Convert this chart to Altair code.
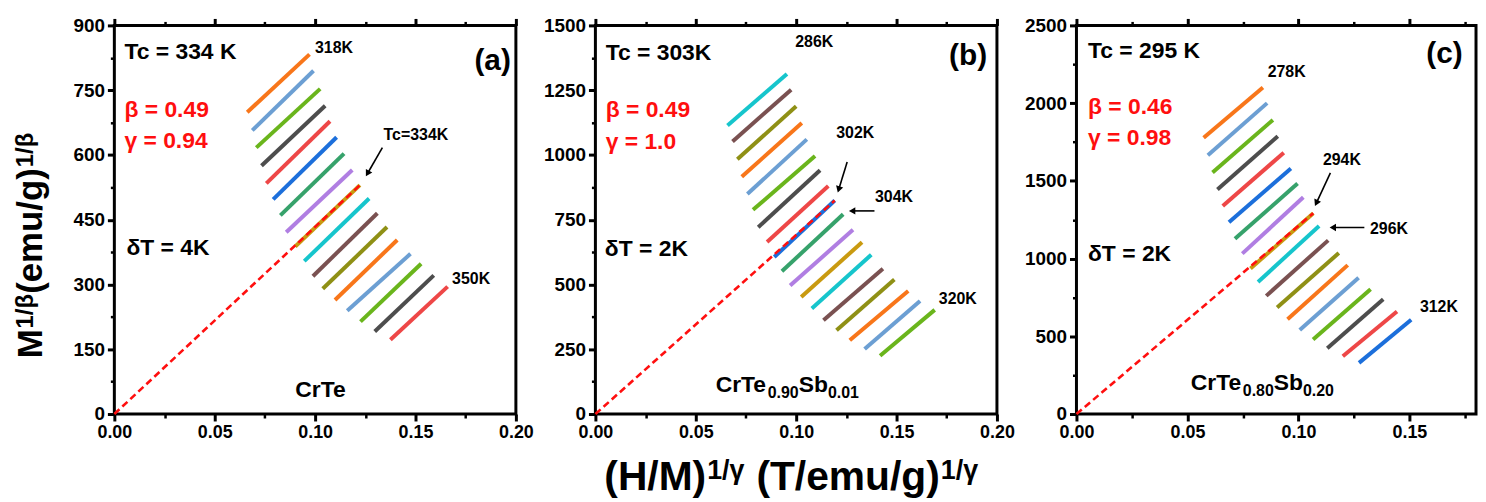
import altair as alt
import pandas as pd

# ---------------- data ----------------
temps_a = list(range(318, 351, 2))
xa_start = [0.0662, 0.0687, 0.0707, 0.0733, 0.0757, 0.0791, 0.0827, 0.0856, 0.0901,
            0.0946, 0.0989, 0.1038, 0.1099, 0.1160, 0.1226, 0.1297, 0.1375]
xa_end = [0.0972, 0.0992, 0.1025, 0.1050, 0.1074, 0.1107, 0.1144, 0.1185, 0.1223,
          0.1269, 0.1310, 0.1358, 0.1409, 0.1475, 0.1528, 0.1591, 0.1660]
ya_start = [699, 657, 617, 575, 534, 497, 460, 421, 388, 354, 319, 290, 264, 239, 214, 191, 172]
ya_end = [833, 795, 753, 714, 678, 641, 603, 565, 530, 499, 465, 433, 403, 371, 348, 321, 295]

temps_b = list(range(286, 321, 2))
xb_start = [0.0658, 0.0683, 0.0707, 0.0729, 0.0757, 0.0785, 0.0811, 0.0855, 0.0891,
            0.0929, 0.0970, 0.1025, 0.1078, 0.1136, 0.1201, 0.1267, 0.1341, 0.1418]
xb_end = [0.0954, 0.0975, 0.1000, 0.1028, 0.1053, 0.1094, 0.1119, 0.1160, 0.1192,
          0.1234, 0.1283, 0.1328, 0.1374, 0.1432, 0.1489, 0.1558, 0.1617, 0.1690]
yb_start = [1114, 1052, 983, 916, 849, 788, 721, 664, 606, 551, 496, 452, 407, 362, 323, 285, 251, 225]
yb_end = [1312, 1252, 1188, 1123, 1060, 996, 941, 880, 824, 771, 711, 663, 615, 561, 519, 475, 436, 402]

temps_c = list(range(278, 313, 2))
xc_start = [0.0573, 0.0592, 0.0613, 0.0635, 0.0659, 0.0687, 0.0714, 0.0747, 0.0784,
            0.0818, 0.0855, 0.0904, 0.0951, 0.1006, 0.1066, 0.1130, 0.1200, 0.1273]
xc_end = [0.0840, 0.0859, 0.0885, 0.0907, 0.0934, 0.0966, 0.0996, 0.1022, 0.1067,
          0.1093, 0.1134, 0.1182, 0.1222, 0.1271, 0.1325, 0.1382, 0.1444, 0.1508]
yc_start = [1777, 1664, 1553, 1445, 1338, 1234, 1127, 1032, 936, 849, 760, 685, 610, 540, 479, 423, 372, 329]
yc_end = [2100, 2000, 1892, 1787, 1681, 1579, 1483, 1394, 1292, 1210, 1117, 1036, 958, 877, 802, 738, 659, 606]

# ---------------- styles ----------------
FONT = "Liberation Sans"
PALETTE = ["#F8761A", "#6C9FD3", "#6AB51C", "#4D4D4D", "#EE4747", "#1C6FDB",
           "#36A26B", "#B07EE2", "#C99A10", "#16C5CC", "#7A5151", "#8F9015"]
RED = "#FF0F0F"
PLOT_H = 391

ADV = {" ": .278, "(": .333, ")": .333, "/": .278, ".": .278, "C": .722, "r": .389,
       "T": .611, "e": .556, "S": .667, "b": .611, "H": .722, "M": .833, "m": .889,
       "u": .611, "g": .611, "β": .575, "γ": .556}


def tw(s, size):
    return sum(ADV.get(ch, .556) for ch in s) * size


def ax(orient, values, labels=False, size=7, width=3, fmt=None, lsize=18):
    kw = dict(orient=orient, values=values, labels=labels, ticks=True, tickSize=size,
              tickWidth=width, tickColor="black", domain=False, grid=False, title=None)
    if labels:
        kw.update(format=fmt, labelFont=FONT, labelFontSize=lsize, labelFontWeight="bold",
                  labelColor="black", labelPadding=3, labelFlush=False,
                  labelOverlap=False, labelBound=False)
    return alt.Axis(**kw)


def panel(tag, spec):
    W = spec["width"]
    xmax, ymax, ystep = spec["xmax"], spec["ymax"], spec["ystep"]
    xsc = alt.Scale(domain=[0, xmax], nice=False)
    ysc = alt.Scale(domain=[0, ymax], nice=False)
    xmaj = [v / 100 for v in range(0, int(round(xmax * 100)) + 1, 5)]
    xmin = [v / 1000 for v in range(25, int(round(xmax * 1000)) + 1, 50)]
    ymaj = list(range(0, ymax + 1, ystep))
    ymin = [v + ystep / 2 for v in range(0, ymax, ystep)]

    temps = spec["temps"]
    names = [f"{tag}{t}K" for t in temps]
    cols = [PALETTE[(i + spec["pal"]) % len(PALETTE)] for i in range(len(temps))]
    rows = []
    for n, a, b, c, d in zip(names, spec["xs"], spec["xe"], spec["ys"], spec["ye"]):
        rows.append({"T": n, "x": a, "y": c})
        rows.append({"T": n, "x": b, "y": d})
    seg_df = pd.DataFrame(rows)

    k = spec["tc_idx"]
    dash_df = pd.DataFrame({"x": [0, spec["xe"][k]], "y": [0, spec["ye"][k]]})

    layers = []
    layers.append(alt.Chart(seg_df).mark_line(strokeWidth=4).encode(
        x=alt.X("x:Q", scale=xsc, axis=ax("bottom", xmaj, labels=True, fmt=".2f")),
        y=alt.Y("y:Q", scale=ysc, axis=ax("left", ymaj, labels=True, fmt="d", lsize=19)),
        color=alt.Color("T:N", scale=alt.Scale(domain=names, range=cols), legend=None),
        detail="T:N"))
    layers.append(alt.Chart(dash_df).mark_line(color=RED, strokeWidth=2.6, strokeDash=[7, 4]).encode(
        x=alt.X("x:Q", scale=xsc, axis=ax("bottom", xmin, size=4, width=2.5)),
        y=alt.Y("y:Q", scale=ysc, axis=ax("left", ymin, size=4, width=2.5))))

    tl = pd.DataFrame(spec["tlabels"], columns=["label", "x", "y"])
    layers.append(alt.Chart(tl).mark_text(font=FONT, fontSize=16, fontWeight="bold",
                                          color="black").encode(
        x=alt.X("x:Q", scale=xsc, axis=ax("top", xmaj)),
        y=alt.Y("y:Q", scale=ysc, axis=None), text="label:N"))

    # arrows
    px_x = W / xmax
    px_y = PLOT_H / ymax
    arr = []
    for (x0, y0, x1, y1, ang) in spec["arrows"]:
        dxp = (x0 - x1) * px_x
        dyp = (y0 - y1) * px_y
        L = (dxp ** 2 + dyp ** 2) ** 0.5
        hx = x1 + (x0 - x1) * 4 / L
        hy = y1 + (y0 - y1) * 4 / L
        arr.append({"x": x0, "y": y0, "x2": hx, "y2": hy, "hx": hx, "hy": hy, "ang": ang})
    arr_df = pd.DataFrame(arr)
    layers.append(alt.Chart(arr_df).mark_rule(color="black", strokeWidth=1.6).encode(
        x=alt.X("x:Q", scale=xsc, axis=ax("top", xmin, size=4, width=2.5)),
        y=alt.Y("y:Q", scale=ysc, axis=None), x2="x2:Q", y2="y2:Q"))
    layers.append(alt.Chart(arr_df).mark_point(shape="triangle-up", filled=True, size=55,
                                               color="black", opacity=1).encode(
        x=alt.X("hx:Q", scale=xsc, axis=None), y=alt.Y("hy:Q", scale=ysc, axis=None),
        angle=alt.Angle("ang:Q", scale=None)))

    # annotation texts
    blk = pd.DataFrame(spec["black"], columns=["t", "x", "y"])
    layers.append(alt.Chart(blk).mark_text(font=FONT, fontSize=23, fontWeight="bold",
                                           color="black", align="left", baseline="middle").encode(
        x=alt.X("x:Q", scale=xsc, axis=None), y=alt.Y("y:Q", scale=ysc, axis=None), text="t:N"))
    red = pd.DataFrame(spec["red"], columns=["t", "x", "y"])
    layers.append(alt.Chart(red).mark_text(font=FONT, fontSize=23, fontWeight="bold",
                                           color=RED, align="left", baseline="middle").encode(
        x=alt.X("x:Q", scale=xsc, axis=None), y=alt.Y("y:Q", scale=ysc, axis=None), text="t:N"))
    let = pd.DataFrame([spec["letter"]], columns=["t", "x", "y"])
    layers.append(alt.Chart(let).mark_text(font=FONT, fontSize=30, fontWeight="bold",
                                           color="black", align="right", baseline="middle").encode(
        x=alt.X("x:Q", scale=xsc, axis=None), y=alt.Y("y:Q", scale=ysc, axis=None), text="t:N"))

    # composition label with subscripts
    fx, fy = spec["formula_at"]
    off = 0.0
    anchor = pd.DataFrame({"x": [fx], "y": [fy]})
    for txt, sub in spec["formula"]:
        size = 16 if sub else 23
        layers.append(alt.Chart(anchor).mark_text(
            text=txt, font=FONT, fontSize=size, fontWeight="bold", color="black",
            align="left", baseline="alphabetic", dx=off, dy=6 if sub else 0).encode(
            x=alt.X("x:Q", scale=xsc, axis=None), y=alt.Y("y:Q", scale=ysc, axis=None)))
        off += tw(txt, size)

    dummy = pd.DataFrame({"d": [0]})
    # y-axis title (first panel only)
    if spec.get("ytitle"):
        off = 0.0
        for txt, sup, gap in [("M", False, 1), ("1/β", True, 1), ("(emu/g)", False, 1), ("1/β", True, 0)]:
            size = 24 if sup else 35
            layers.append(alt.Chart(dummy).mark_text(
                text=txt, font=FONT, fontSize=size, fontWeight="bold", color="black",
                align="left", baseline="alphabetic", angle=270, dx=off,
                dy=-9 if sup else 0).encode(x=alt.value(-73), y=alt.value(335)))
            off += tw(txt, size) + gap
    # x-axis title (middle panel only)
    if spec.get("xtitle"):
        off = 0.0
        for txt, sup, gap in [("(H/M)", False, 1), ("1/γ", True, 12), ("(T/emu/g)", False, 1), ("1/γ", True, 0)]:
            size = 27 if sup else 41
            layers.append(alt.Chart(dummy).mark_text(
                text=txt, font=FONT, fontSize=size, fontWeight="bold", color="black",
                align="left", baseline="alphabetic", dx=off,
                dy=-11 if sup else 0).encode(x=alt.value(9), y=alt.value(467)))
            off += tw(txt, size) + gap

    return alt.layer(*layers).resolve_axis(x="independent", y="independent").properties(
        width=W, height=PLOT_H)


spec_a = dict(width=404, xmax=0.20, ymax=900, ystep=150, temps=temps_a, pal=0,
              xs=xa_start, xe=xa_end, ys=ya_start, ye=ya_end, tc_idx=8,
              tlabels=[("318K", 0.1094, 848), ("Tc=334K", 0.1502, 647), ("350K", 0.1777, 313)],
              arrows=[(0.1335, 617, 0.1251, 549, 210)],
              black=[("Tc = 334 K", 0.005, 839), ("δT = 4K", 0.006, 384)],
              red=[("β = 0.49", 0.005, 704), ("γ = 0.94", 0.005, 633)],
              letter=("(a)", 0.1975, 817),
              formula_at=(0.0901, 39), formula=[("CrTe", False)], ytitle=True)

spec_b = dict(width=404, xmax=0.20, ymax=1500, ystep=250, temps=temps_b, pal=9,
              xs=xb_start, xe=xb_end, ys=yb_start, ye=yb_end, tc_idx=8,
              tlabels=[("286K", 0.109, 1437), ("302K", 0.1294, 1086), ("304K", 0.1487, 836),
                       ("320K", 0.1805, 445)],
              arrows=[(0.1254, 973, 0.1206, 852, 197), (0.139, 784, 0.1259, 784, 270)],
              black=[("Tc = 303K", 0.0051, 1393), ("δT = 2K", 0.0047, 637)],
              red=[("β = 0.49", 0.0051, 1174), ("γ = 1.0", 0.0051, 1051)],
              letter=("(b)", 0.1951, 1381),
              formula_at=(0.0599, 84),
              formula=[("CrTe", False), ("0.90", True), ("Sb", False), ("0.01", True)],
              xtitle=True)

spec_c = dict(width=402, xmax=0.18, ymax=2500, ystep=500, temps=temps_c, pal=0,
              xs=xc_start, xe=xc_end, ys=yc_start, ye=yc_end, tc_idx=8,
              tlabels=[("278K", 0.0947, 2201), ("294K", 0.1196, 1636), ("296K", 0.1408, 1193),
                       ("312K", 0.1633, 691)],
              arrows=[(0.1144, 1551, 0.1073, 1334, 205), (0.1297, 1200, 0.1137, 1200, 270)],
              black=[("Tc = 295 K", 0.0052, 2338), ("δT = 2K", 0.0052, 1027)],
              red=[("β = 0.46", 0.0052, 1978), ("γ = 0.98", 0.0052, 1777)],
              letter=("(c)", 0.174, 2313),
              formula_at=(0.0515, 155),
              formula=[("CrTe", False), ("0.80", True), ("Sb", False), ("0.20", True)])

chart = alt.hconcat(
    panel("a", spec_a), panel("b", spec_b), panel("c", spec_c), spacing=80, bounds="flush"
).resolve_scale(color="independent").properties(
    padding={"left": 4, "top": 5, "right": 0, "bottom": 0}, background="white"
).configure_view(stroke="black", strokeWidth=3)

chart.save("out.html", embed_options={"renderer": "svg", "actions": False})
